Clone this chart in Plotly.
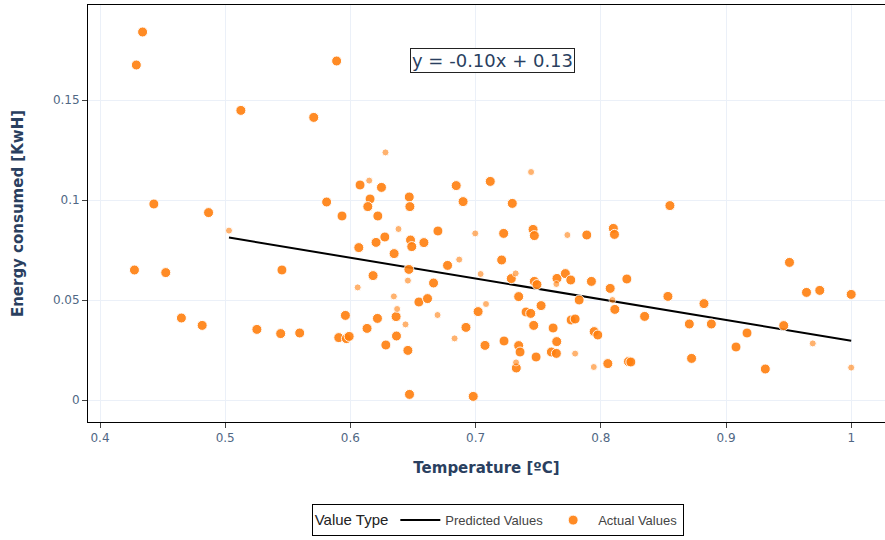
import plotly.graph_objects as go

# Actual values (solid markers)
actual_x = [0.434, 0.429, 0.589, 0.5125, 0.5707, 0.443, 0.4867, 0.581, 0.5933, 0.6077,
            0.6157, 0.6139, 0.6248, 0.6219, 0.647, 0.6475, 0.6845, 0.7117, 0.7293, 0.690,
            0.8552, 0.9507, 0.6067, 0.6205, 0.6181, 0.4275, 0.4525, 0.5453, 0.465, 0.4816,
            0.5253, 0.5443, 0.5595, 0.596, 0.5907, 0.5968, 0.599, 0.6133, 0.6216, 0.6699,
            0.6275, 0.648, 0.649, 0.6587, 0.6349, 0.6467, 0.6776, 0.6664, 0.6547, 0.6616,
            0.6365, 0.6923, 0.6368, 0.6283, 0.6459, 0.702, 0.6472, 0.6981, 0.7224, 0.7459,
            0.7469, 0.7888, 0.810, 0.8109, 0.7208, 0.7285, 0.7469, 0.749, 0.765, 0.7717,
            0.776, 0.7925, 0.8075, 0.8208, 0.8112, 0.835, 0.7344, 0.7827, 0.7523, 0.7403,
            0.744, 0.7763, 0.7795, 0.7464, 0.7619, 0.7947, 0.7976, 0.7075, 0.7227, 0.7344,
            0.7355, 0.7648, 0.7483, 0.7605, 0.7645, 0.7325, 0.8056, 0.8221, 0.824, 0.8536,
            0.9643, 0.9749, 1.0, 0.8824, 0.8707, 0.8883, 0.9168, 0.9461, 0.908, 0.8725,
            0.9314]
actual_y = [0.184, 0.1675, 0.1695, 0.1448, 0.1413, 0.098, 0.0937, 0.099, 0.092, 0.1075,
            0.1005, 0.0967, 0.1063, 0.092, 0.1015, 0.0967, 0.1072, 0.1093, 0.0983, 0.0992,
            0.0972, 0.0688, 0.0762, 0.0788, 0.0622, 0.065, 0.0637, 0.065, 0.041, 0.0373,
            0.0353, 0.0332, 0.0335, 0.0423, 0.0312, 0.0307, 0.0318, 0.0358, 0.0408, 0.0845,
            0.0815, 0.080, 0.0767, 0.0787, 0.0732, 0.0653, 0.0673, 0.0585, 0.049, 0.0507,
            0.0417, 0.0363, 0.032, 0.0275, 0.0248, 0.0442, 0.0028, 0.0018, 0.0833, 0.0853,
            0.0822, 0.0825, 0.0858, 0.0828, 0.070, 0.0607, 0.0593, 0.0577, 0.0608, 0.0632,
            0.060, 0.0593, 0.0558, 0.0605, 0.0453, 0.0418, 0.0517, 0.050, 0.0472, 0.044,
            0.0433, 0.040, 0.0405, 0.0373, 0.036, 0.0342, 0.0325, 0.0273, 0.0295, 0.0272,
            0.024, 0.0292, 0.0215, 0.024, 0.0233, 0.016, 0.0182, 0.0192, 0.019, 0.0518,
            0.0538, 0.0548, 0.0528, 0.0482, 0.038, 0.038, 0.0335, 0.0372, 0.0265, 0.0208,
            0.0155]

# Actual values (faint markers)
faint_x = [0.503, 0.615, 0.628, 0.6058, 0.6384, 0.6997, 0.6459, 0.6869, 0.6347, 0.6373,
           0.6696, 0.644, 0.6832, 0.7443, 0.7733, 0.704, 0.732, 0.7645, 0.8093, 0.7083,
           0.7795, 0.7323, 0.7944, 0.9693, 1.0]
faint_y = [0.0847, 0.1097, 0.1238, 0.0563, 0.0855, 0.0833, 0.0597, 0.0702, 0.0518, 0.0455,
           0.0425, 0.0378, 0.0308, 0.114, 0.0825, 0.063, 0.0633, 0.058, 0.050, 0.048,
           0.0232, 0.0188, 0.0165, 0.0283, 0.0162]

# Predicted values (regression line)
pred_x = [0.503, 1.0]
pred_y = [0.0812, 0.0296]

equation_text = "y = -0.10x + 0.13"
x_ticks = [0.4, 0.5, 0.6, 0.7, 0.8, 0.9, 1.0]
x_tick_text = ["0.4", "0.5", "0.6", "0.7", "0.8", "0.9", "1"]
y_ticks = [0, 0.05, 0.1, 0.15]
y_tick_text = ["0", "0.05", "0.1", "0.15"]

ORANGE = "#FF7F0E"
FONT = "DejaVu Sans, Verdana, sans-serif"

fig = go.Figure()
fig.add_trace(go.Scatter(
    x=pred_x, y=pred_y, mode="lines", name="Predicted Values",
    line=dict(color="black", width=2), legendgroup="pred"))
fig.add_trace(go.Scatter(
    x=actual_x, y=actual_y, mode="markers", name="Actual Values",
    marker=dict(color=ORANGE, size=10, opacity=0.9, line=dict(color="white", width=1)),
    legendgroup="act"))
fig.add_trace(go.Scatter(
    x=faint_x, y=faint_y, mode="markers", name="Actual Values", showlegend=False,
    marker=dict(color=ORANGE, size=7, opacity=0.6, line=dict(color="white", width=1)),
    legendgroup="act"))

fig.update_layout(
    width=885, height=540,
    template="plotly_white",
    paper_bgcolor="white", plot_bgcolor="white",
    margin=dict(l=88, r=0, t=5, b=118),
    font=dict(family=FONT, size=12, color="#506784"),
    legend=dict(
        orientation="h", x=0.514, xanchor="center", y=-0.197, yanchor="top",
        bordercolor="black", borderwidth=1, itemwidth=40,
        title=dict(text="Value Type", font=dict(family="Arial, Liberation Sans", size=15, color="#222")),
        font=dict(family="Arial, Liberation Sans", size=13, color="#444"),
    ),
    annotations=[dict(
        text=equation_text, xref="paper", yref="paper", x=0.507, y=0.866,
        xanchor="center", yanchor="middle",
        showarrow=False, font=dict(family=FONT, size=18, color="#2a3f5f"),
        bordercolor="#222", borderwidth=1, borderpad=1, bgcolor="white",
    )],
)
fig.update_xaxes(
    range=[0.3904, 1.027], tickvals=x_ticks, ticktext=x_tick_text,
    title=dict(text="Temperature [ºC]", font=dict(family=FONT, size=15, color="#2a3f5f", weight="bold"), standoff=18),
    showline=True, linecolor="black", linewidth=1, mirror=True,
    ticks="outside", ticklen=5, tickcolor="#444",
    showgrid=True, gridcolor="#EBF0F8", zeroline=False,
)
fig.update_yaxes(
    range=[-0.011, 0.1975], tickvals=y_ticks, ticktext=y_tick_text,
    title=dict(text="Energy consumed [KwH]", font=dict(family=FONT, size=15, color="#2a3f5f", weight="bold"), standoff=25),
    showline=True, linecolor="black", linewidth=1, mirror=False,
    ticks="outside", ticklen=5, tickcolor="#444",
    showgrid=True, gridcolor="#EBF0F8", zeroline=False,
)

fig.write_html("out.html")
